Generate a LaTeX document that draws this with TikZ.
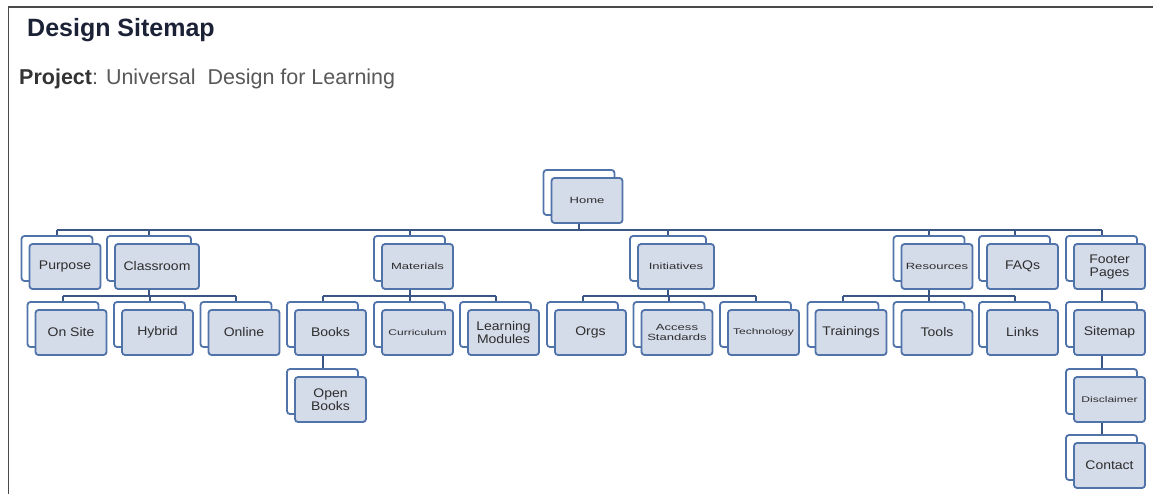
\documentclass[tikz,border=0pt]{standalone}
\usepackage{fontspec}
\setmainfont{Liberation Sans}
\newfontfamily\nodefnt[FakeStretch=1.12]{Liberation Sans}
\newfontfamily\nodefntsm[FakeStretch=1.45]{Liberation Sans}
\usetikzlibrary{backgrounds}
\definecolor{boxline}{HTML}{5073AA}
\definecolor{boxfill}{HTML}{D4DBE9}
\definecolor{connline}{HTML}{3A5685}
\definecolor{txt}{HTML}{2E2E2E}
\definecolor{titlecol}{HTML}{1B2236}
\definecolor{framecol}{HTML}{4A4A4A}
\newcommand\dbox[5][]{%
  \node[backbox,#1] (#2b) at ({#3-8},{#4-8}) {};
  \node[frontbox,#1] (#2) at (#3,#4) {#5};
}
\begin{document}
\begin{tikzpicture}[x=1pt,y=-1pt,
  boxbase/.style={draw=boxline,line width=1.8pt,rounded corners=3pt,inner sep=0pt,
    minimum width=71pt,minimum height=45pt,align=center,text=txt},
  backbox/.style={boxbase,fill=white},
  frontbox/.style={boxbase,fill=boxfill,font=\nodefnt\fontsize{12.5}{13}\selectfont},
  smalltext/.style={font=\nodefntsm\fontsize{9}{10.5}\selectfont},
  tinytext/.style={font=\nodefntsm\fontsize{8.3}{10}\selectfont},
  conn/.style={draw=connline,line width=2pt},
  mainbus/.style={draw=connline,line width=2.6pt},
  frame/.style={draw=framecol,line width=1.5pt}]
\useasboundingbox (0,0) rectangle (1153,494);

% titles
\node[anchor=base west,inner sep=0pt,text=titlecol,font=\fontsize{25}{30}\selectfont\bfseries] (title) at (27,37) {Design Sitemap};
\node[anchor=base west,inner sep=0pt,text=black!65,font=\fontsize{21.5}{26}\selectfont] (project) at (19,85)
  {\textcolor{black!80}{\bfseries Project}: Universal\ \ Design for Learning};

% boxes
\dbox[smalltext]{Home}{587}{200.5}{Home}

\dbox{Purpose}{65}{266.5}{Purpose}
\dbox[minimum width=84pt]{Classroom}{157}{266.5}{Classroom}
\dbox[smalltext]{Materials}{417.5}{266.5}{Materials}
\dbox[smalltext,minimum width=76pt]{Initiatives}{676}{266.5}{Initiatives}
\dbox[smalltext]{Resources}{937}{266.5}{Resources}
\dbox{FAQs}{1022.5}{266.5}{FAQs}
\dbox{Footer}{1109.5}{266.5}{Footer\\Pages}

\dbox{OnSite}{71}{332.5}{On Site}
\dbox{Hybrid}{157.5}{332.5}{Hybrid}
\dbox{Online}{244}{332.5}{Online}
\dbox{Books}{330.5}{332.5}{Books}
\dbox[tinytext]{Curriculum}{417.5}{332.5}{Curriculum}
\dbox{Learning}{503.5}{332.5}{Learning\\Modules}
\dbox{Orgs}{590.5}{332.5}{Orgs}
\dbox[smalltext]{Access}{677}{332.5}{Access\\Standards}
\dbox[tinytext]{Technology}{763.5}{332.5}{Technology}
\dbox{Trainings}{851}{332.5}{Trainings}
\dbox{Tools}{937}{332.5}{Tools}
\dbox{Links}{1022.5}{332.5}{Links}
\dbox{Sitemap}{1109.5}{332.5}{Sitemap}

\dbox{OpenBooks}{330.5}{399.5}{Open\\Books}
\dbox[tinytext]{Disclaimer}{1109.5}{399.5}{Disclaimer}
\dbox{Contact}{1109.5}{465.5}{Contact}

\begin{pgfonlayer}{background}
  \fill[white] (0,0) rectangle (1153,494);
  \draw[frame] (8.5,494) -- (8.5,7) -- (1153,7);
  \coordinate (busA) at (0,230);
  \coordinate (busB) at (0,296);
  % main level
  \draw[mainbus] (Purposeb.center |- busA) -- (Footerb.center |- busA);
  \draw[conn] (Homeb.center |- Home.south) -- (Homeb.center |- busA);
  \foreach \c in {Purpose,Classroom,Materials,Initiatives,Resources,FAQs,Footer}
    \draw[conn] (\c b.center |- busA) -- (\c b.north);
  % Classroom
  \draw[conn] (Classroomb.center |- Classroom.south) -- (Classroomb.center |- busB);
  \draw[conn] (OnSiteb.center |- busB) -- (Onlineb.center |- busB);
  % Materials
  \draw[conn] (Materialsb.center |- Materials.south) -- (Materialsb.center |- busB);
  \draw[conn] (Booksb.center |- busB) -- (Learningb.center |- busB);
  % Initiatives
  \draw[conn] (Initiativesb.center |- Initiatives.south) -- (Initiativesb.center |- busB);
  \draw[conn] (Orgsb.center |- busB) -- (Technologyb.center |- busB);
  % Resources
  \draw[conn] (Resourcesb.center |- Resources.south) -- (Resourcesb.center |- busB);
  \draw[conn] (Trainingsb.center |- busB) -- (Linksb.center |- busB);
  \foreach \c in {OnSite,Hybrid,Online,Books,Curriculum,Learning,Orgs,Access,Technology,Trainings,Tools,Links}
    \draw[conn] (\c b.center |- busB) -- (\c b.north);
  % chains
  \draw[conn] (Booksb.center |- Books.south) -- (OpenBooksb.north);
  \draw[conn] (Footerb.center |- Footer.south) -- (Sitemapb.north);
  \draw[conn] (Sitemapb.center |- Sitemap.south) -- (Disclaimerb.north);
  \draw[conn] (Disclaimerb.center |- Disclaimer.south) -- (Contactb.north);
\end{pgfonlayer}
\end{tikzpicture}
\end{document}
